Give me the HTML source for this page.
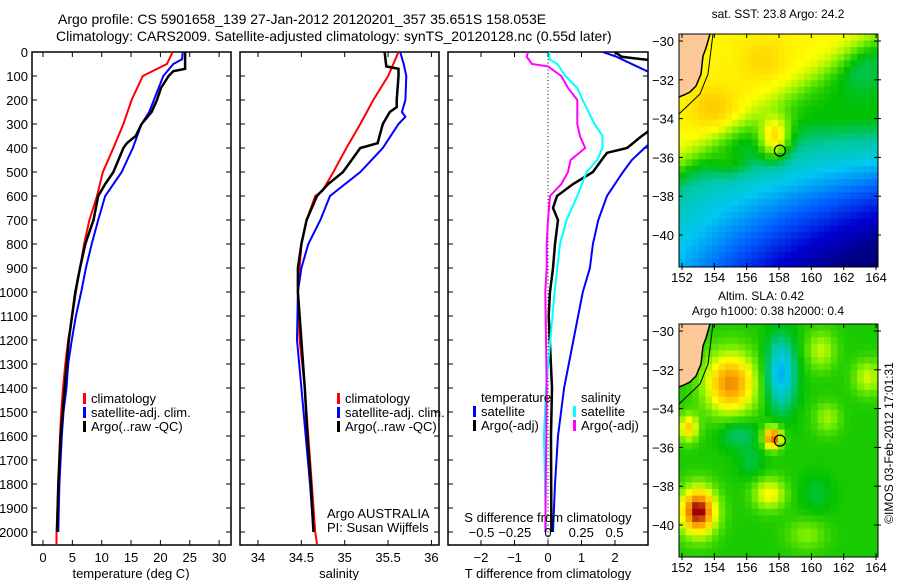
<!DOCTYPE html>
<html><head><meta charset="utf-8"><style>
html,body{margin:0;padding:0;background:#fff;}
svg{display:block;font-family:"Liberation Sans","DejaVu Sans",sans-serif;}
</style></head><body>
<svg id="fig" width="900" height="580" viewBox="0 0 900 580" xmlns="http://www.w3.org/2000/svg">
<text x="58" y="24" font-size="14">Argo profile: CS 5901658_139 27-Jan-2012 20120201_357 35.651S 158.053E</text>
<text x="56" y="41" font-size="14">Climatology: CARS2009. Satellite-adjusted climatology: synTS_20120128.nc (0.55d later)</text>
<g id="g"></g>
</svg>
<script>
// ---------- data ----------
const tDepth=[0,50,100,200,300,400,500,600,700,800,900,1000,1100,1200,1300,1400,1500,1600,1800,2000,2050];
const tClim=[22.1,21.1,17,15.1,13.7,12,10.2,9.2,7.9,7,6.3,5.6,5,4.3,3.8,3.4,3.1,2.9,2.6,2.3,2.3];
const tSatDepth=[0,30,50,100,200,250,300,400,500,600,700,800,900,1000,1100,1200,1300,1400,1500,1600,1800,2000];
const tSat=[23.8,23.7,22.2,20.5,18.9,18.1,16.8,15.3,13.4,10.6,9.4,8.3,7.3,6.5,5.6,4.9,4.3,4,3.5,3.2,2.8,2.6];
const tArgoDepth=[0,70,80,100,150,200,250,300,350,380,400,500,550,600,700,800,900,1000,1200,1400,1600,1800,2000];
const tArgo=[24.2,24.2,22.2,21.4,20.1,19.4,18.5,16.8,15.8,14.3,13.7,12,10.6,9.4,8.6,7.2,6.3,5.5,4.4,3.7,3,2.6,2.4];
const sClimDepth=[0,100,200,300,400,500,580,600,700,800,900,1000,1200,1400,1600,1800,2000,2050];
const sClim=[35.62,35.5,35.33,35.18,35.02,34.87,34.74,34.66,34.56,34.5,34.48,34.46,34.48,34.54,34.58,34.62,34.66,34.68];
const sSatDepth=[0,50,100,200,250,270,300,400,500,600,700,800,900,1000,1200,1400,1600,1800,2000];
const sSat=[35.64,35.68,35.71,35.7,35.66,35.7,35.62,35.44,35.18,34.83,34.72,34.58,34.5,34.46,34.45,34.5,34.55,34.6,34.64];
const sArgoDepth=[0,60,70,100,200,230,250,300,340,380,400,500,550,600,700,800,900,1000,1400,1600,1800,2000];
const sArgo=[35.46,35.48,35.62,35.62,35.6,35.6,35.52,35.44,35.41,35.38,35.18,34.98,34.81,34.68,34.56,34.5,34.46,34.46,34.54,34.57,34.61,34.64];
const dtSatDepth=[0,20,83,120,385,450,500,600,700,800,900,1000,1400,1600,1800,2000];
const dtSat=[1.64,2.05,3.0,3.3,3.0,2.5,2.24,1.76,1.5,1.34,1.25,1.04,0.48,0.3,0.21,0.15];
const dtArgoDepth=[0,20,33,60,330,350,400,420,450,500,550,600,650,700,800,900,1000,1100,1400,1600,2000];
const dtArgo=[2.0,2.2,3.0,3.3,3.0,2.8,2.36,1.76,1.6,1.34,0.75,0.27,0.15,0.3,0.21,0.15,0.06,0.02,0.12,0.09,0.1];
const dsSatDepth=[0,30,50,100,150,200,300,350,400,450,500,600,700,800,1000,1400,1600,2000];
const dsSat=[0.01,0.01,0.07,0.13,0.22,0.26,0.35,0.41,0.41,0.37,0.29,0.22,0.14,0.09,0.05,-0.015,-0.03,-0.015];
const dsArgoDepth=[0,20,50,60,100,150,200,300,350,400,450,500,550,600,700,800,900,1000,1400,2000];
const dsArgo=[-0.15,-0.16,-0.12,0,0.1,0.15,0.22,0.22,0.24,0.28,0.17,0.15,0.1,0.015,0,-0.01,-0.01,-0.02,-0.01,-0.02];
const depthTicks=[0,100,200,300,400,500,600,700,800,900,1000,1100,1200,1300,1400,1500,1600,1700,1800,1900,2000];
const tTicks=[0,5,10,15,20,25,30];
const sTicks=[34,34.5,35,35.5,36];
const dtTicks=[-2,-1,0,1,2];
const dsTicks=[-0.5,-0.25,0,0.25,0.5];
const latTicks=[-30,-32,-34,-36,-38,-40];
const lonTicks=[152,154,156,158,160,162,164];

// ---------- helpers ----------
const NS="http://www.w3.org/2000/svg";
const G=document.getElementById('g');
function el(tag,attrs,parent){const e=document.createElementNS(NS,tag);for(const k in attrs)e.setAttribute(k,attrs[k]);(parent||G).appendChild(e);return e;}
function txt(x,y,s,size,anchor,parent){const e=el('text',{x:x,y:y,'font-size':size||13,'text-anchor':anchor||'start'},parent);e.textContent=s;return e;}
const TOP=52,BOT=545;
const yD=d=>TOP+d*0.24;
const xT=v=>43+v*5.87;
const xS=v=>258+(v-34)*86.7;
const xDT=v=>548+v*33.5;
const xDS=v=>548+v*133;

function panel(x0,x1,name){
  const r=el('rect',{x:x0,y:TOP,width:x1-x0,height:BOT-TOP,fill:'none',stroke:'#000','stroke-width':1.5});
  
  
  depthTicks.forEach(d=>{
    el('line',{x1:x0,x2:x0+5,y1:yD(d),y2:yD(d),stroke:'#000'});
    el('line',{x1:x1-5,x2:x1,y1:yD(d),y2:yD(d),stroke:'#000'});
  });
}
function clipFor(x0,x1,id){const c=el('clipPath',{id:id});el('rect',{x:x0,y:TOP,width:x1-x0,height:BOT-TOP},c);}
function line(depths,vals,fx,color,w,name,clip){
  let pts=depths.map((d,i)=>fx(vals[i]).toFixed(1)+','+yD(d).toFixed(1)).join(' ');
  const p=el('polyline',{points:pts,fill:'none',stroke:color,'stroke-width':w,'stroke-linejoin':'miter','clip-path':'url(#'+clip+')'});
  
  
}
function legend(x,y,items,name){
  const g=el('g',{});
  
  
  items.forEach((it,i)=>{
    el('rect',{x:x,y:y+i*14-10,width:3,height:11,fill:it[0]},g);
    txt(x+8,y+i*14,it[1],13,'start',g);
  });
}

// ---------- panel 1: temperature ----------
panel(32,231,'temperature-panel'); clipFor(32,231,'c1');
depthTicks.forEach(d=>{txt(28,yD(d)+5,String(d),13,'end');});
tTicks.forEach(v=>{el('line',{x1:xT(v),x2:xT(v),y1:TOP,y2:TOP+5,stroke:'#000'});el('line',{x1:xT(v),x2:xT(v),y1:BOT-5,y2:BOT,stroke:'#000'});txt(xT(v),562,String(v),13,'middle');});
txt(131,578,'temperature (deg C)',13,'middle');
line(tDepth,tClim,xT,'#f00',2,'temp-climatology-line','c1');
line(tSatDepth,tSat,xT,'#00f',2,'temp-satellite-line','c1');
line(tArgoDepth,tArgo,xT,'#000',2.5,'temp-argo-line','c1');
legend(83,403,[['#f00','climatology'],['#00f','satellite-adj. clim.'],['#000','Argo(..raw -QC)']],'temp-legend');

// ---------- panel 2: salinity ----------
panel(240,439,'salinity-panel'); clipFor(240,439,'c2');
sTicks.forEach(v=>{el('line',{x1:xS(v),x2:xS(v),y1:TOP,y2:TOP+5,stroke:'#000'});el('line',{x1:xS(v),x2:xS(v),y1:BOT-5,y2:BOT,stroke:'#000'});txt(xS(v),562,String(v),13,'middle');});
txt(339,578,'salinity',13,'middle');
line(sClimDepth,sClim,xS,'#f00',2,'sal-climatology-line','c2');
line(sSatDepth,sSat,xS,'#00f',2,'sal-satellite-line','c2');
line(sArgoDepth,sArgo,xS,'#000',2.5,'sal-argo-line','c2');
legend(337,403,[['#f00','climatology'],['#00f','satellite-adj. clim.'],['#000','Argo(..raw -QC)']],'sal-legend');
txt(327,518,'Argo AUSTRALIA',13); txt(327,532,'PI: Susan Wijffels',13);

// ---------- panel 3: differences ----------
panel(448,648,'difference-panel'); clipFor(448,648,'c3');
el('line',{x1:548,x2:548,y1:TOP,y2:BOT,stroke:'#000','stroke-dasharray':'1,2.5'});
dtTicks.forEach(v=>{el('line',{x1:xDT(v),x2:xDT(v),y1:TOP,y2:TOP+5,stroke:'#000'});el('line',{x1:xDT(v),x2:xDT(v),y1:BOT-5,y2:BOT,stroke:'#000'});txt(xDT(v),562,String(v).replace('-','\u2212'),13,'middle');});
line(dtSatDepth,dtSat,xDT,'#00f',2,'dt-satellite-line','c3');
line(dtArgoDepth,dtArgo,xDT,'#000',2.5,'dt-argo-line','c3');
line(dsSatDepth,dsSat,xDS,'#0ff',2,'ds-satellite-line','c3');
line(dsArgoDepth,dsArgo,xDS,'#f0f',2,'ds-argo-line','c3');
dsTicks.forEach(v=>{txt(xDS(v),537,String(v).replace('-','\u2212'),13,'middle');});
txt(548,522,'S difference from climatology',13,'middle');
txt(548,578,'T difference from climatology',13,'middle');
txt(481,402,'temperature',13);
legend(473,416,[['#00f','satellite'],['#000','Argo(-adj)']],'dt-legend');
txt(581,402,'salinity',13);
legend(573,416,[['#0ff','satellite'],['#f0f','Argo(-adj)']],'ds-legend');

// ---------- maps ----------
const cmapStops=[[0,[0,0,128]],[0.15,[0,0,210]],[0.28,[0,96,255]],[0.4,[0,200,240]],[0.5,[0,200,160]],[0.6,[0,192,0]],[0.7,[128,240,0]],[0.78,[255,255,0]],[0.88,[255,176,0]],[0.95,[224,112,0]],[1,[160,0,0]]];
function cmap(v){v=Math.max(0,Math.min(1,v));
  for(let i=1;i<cmapStops.length;i++){const a=cmapStops[i-1],b=cmapStops[i];if(v<=b[0]){const t=(v-a[0])/(b[0]-a[0]);return 'rgb('+a[1].map((c,k)=>Math.round(c+(b[1][k]-c)*t)).join(',')+')';}}
  return 'rgb(160,0,0)';}
function blob(lon,lat,cx,cy,a,rx,ry){return a*Math.exp(-(((lon-cx)/rx)**2+((lat-cy)/ry)**2));}
function sst(lon,lat){
  const front=-36.5+(lon-152)*0.55;
  const north=0.79+blob(lon,lat,154,-33.5,0.06,1.5,1.2)+blob(lon,lat,157,-31,0.04,1.5,1.2);
  let south=0.6-0.03*Math.max(0,-34-lat)*(1+2*(lon-152)/12);
  south+=blob(lon,lat,157.7,-35,0.28,1.0,1.2)+blob(lon,lat,155,-36.3,0.1,1.5,0.8)+blob(lon,lat,163,-31,-0.08,1.5,1.5);
  const w=1/(1+Math.exp(-(lat-front)/0.5));
  return south+w*(north-south);}
function sla(lon,lat){
  let v=0.62;
  v+=blob(lon,lat,155,-32.7,0.3,1.6,1.6)-blob(lon,lat,158.1,-32.2,0.25,0.9,1.8);
  v+=blob(lon,lat,153,-39.3,0.4,1.1,1.2)+blob(lon,lat,157.6,-35.5,0.37,0.55,0.55);
  v+=blob(lon,lat,157.4,-38.4,0.17,1,0.8)+blob(lon,lat,152.4,-35,0.22,0.6,0.7);
  v+=blob(lon,lat,160.6,-31,0.12,0.9,1)+blob(lon,lat,163.5,-32.4,0.13,0.9,0.9);
  v+=blob(lon,lat,161,-34.5,0.1,0.8,0.8)+blob(lon,lat,159.7,-40.5,0.08,1.2,0.8);
  v-=blob(lon,lat,155.5,-35.3,0.1,1.2,0.8)+blob(lon,lat,156.3,-36.8,0.06,0.8,0.8)+blob(lon,lat,160.3,-38.4,0.05,1,1);
  return v;}
function map(y0,field,name){
  const X0=679,X1=878,Y1=y0+233;
  const lx=lon=>682+(lon-152)*16.17, ly=lat=>y0+7+(-30-lat)*19.4;
  const g=el('g',{});
  
  
  const cw=6.6,ch=6.6;
  for(let x=X0;x<X1;x+=cw){for(let y=y0;y<Y1;y+=ch){
    const lon=152+(x+cw/2-682)/16.17, lat=-30-(y+ch/2-y0-7)/19.4;
    el('rect',{x:x.toFixed(1),y:y.toFixed(1),width:Math.min(cw+0.4,X1-x),height:Math.min(ch+0.4,Y1-y),fill:cmap(field(lon,lat))},g);
  }}
  const land=el('polygon',{points:`${X0},${y0} 710,${y0} 706,${y0+14} 703,${y0+22} 701,${y0+40} 696,${y0+52} 690,${y0+58} 684,${y0+61} ${X0},${y0+63}`,fill:'#fcc898'},g);
  
  
  el('polyline',{points:`710,${y0} 706,${y0+14} 703,${y0+22} 701,${y0+40} 696,${y0+52} 690,${y0+58} 684,${y0+61} ${X0},${y0+63}`,fill:'none',stroke:'#000','stroke-width':1.5},g);
  el('polyline',{points:`713,${y0} 708,${y0+40} 700,${y0+60} ${X0},${y0+80}`,fill:'none',stroke:'#000','stroke-width':1},g);
  const c=el('circle',{cx:lx(158.053),cy:ly(-35.651),r:5.5,fill:'none',stroke:'#000','stroke-width':1.2},g);
  
  
  el('rect',{x:X0,y:y0,width:X1-X0,height:Y1-y0,fill:'none',stroke:'#000','stroke-width':1},g);
  latTicks.forEach(l=>{el('line',{x1:X0,x2:X0+4,y1:ly(l),y2:ly(l),stroke:'#000'},g);el('line',{x1:X1-4,x2:X1+3,y1:ly(l),y2:ly(l),stroke:'#000'},g);txt(674,ly(l)+5,String(l).replace('-','\u2212'),13,'end',g);});
  lonTicks.forEach(l=>{el('line',{x1:lx(l),x2:lx(l),y1:y0,y2:y0+4,stroke:'#000'},g);el('line',{x1:lx(l),x2:lx(l),y1:Y1-4,y2:Y1+3,stroke:'#000'},g);txt(lx(l),Y1+15,String(l),13,'middle',g);});
}
map(34,sst,'sst-map');
map(324,sla,'sla-map');
txt(778,18,'sat. SST: 23.8 Argo: 24.2',12,'middle');
txt(761,300,'Altim. SLA: 0.42',12,'middle');
txt(768,315,'Argo h1000: 0.38 h2000: 0.4',12,'middle');
const cp=txt(0,0,'\u00a9IMOS 03-Feb-2012 17:01:31',12,'middle');
cp.setAttribute('transform','translate(893,443) rotate(-90)');


</script>
</body></html>
